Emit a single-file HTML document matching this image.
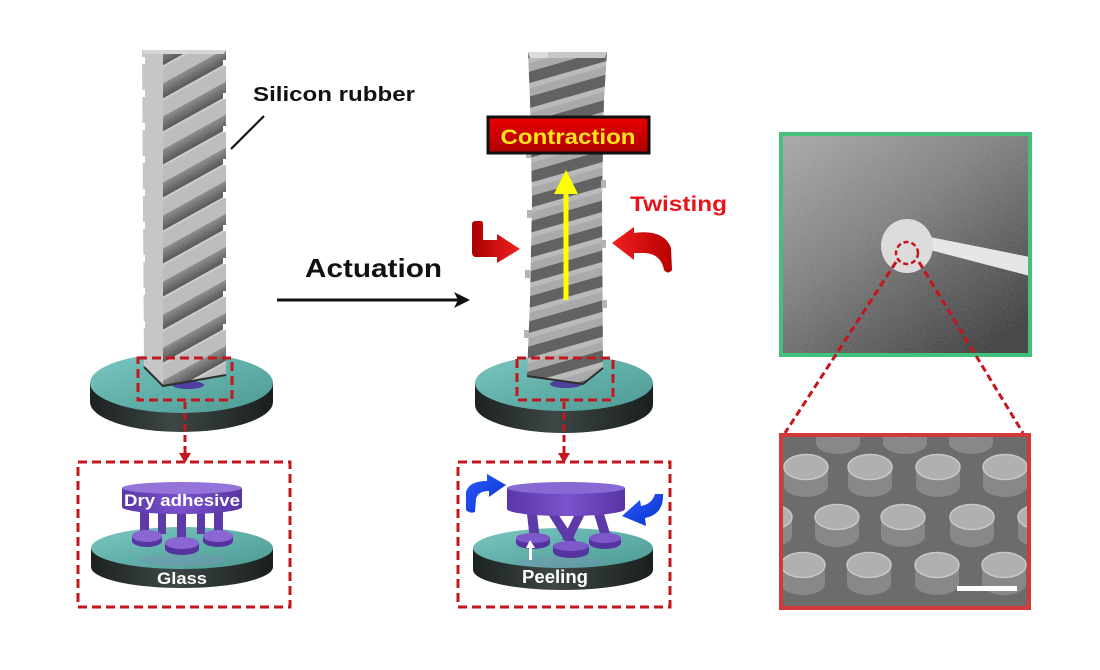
<!DOCTYPE html>
<html><head><meta charset="utf-8"><style>
html,body{margin:0;padding:0;background:#fff;}
svg{display:block;}
</style></head><body>
<svg width="1100" height="670" viewBox="0 0 1100 670" xmlns="http://www.w3.org/2000/svg" font-family="'Liberation Sans', Arial, sans-serif" font-weight="bold">
<defs>
  <linearGradient id="diskTop" x1="0" y1="0" x2="1" y2="1">
    <stop offset="0" stop-color="#7cc6c0"/><stop offset="0.5" stop-color="#62b0aa"/><stop offset="1" stop-color="#4e9a94"/>
  </linearGradient>
  <linearGradient id="diskSide" x1="0" y1="0" x2="1" y2="0">
    <stop offset="0" stop-color="#1c2221"/><stop offset="0.45" stop-color="#3d4745"/><stop offset="1" stop-color="#1a1f1e"/>
  </linearGradient>
  <linearGradient id="grooveG" x1="0" y1="0" x2="0" y2="1">
    <stop offset="0" stop-color="#8e8e8e"/><stop offset="1" stop-color="#585858"/>
  </linearGradient>
  <pattern id="lgroove" width="200" height="28.9" patternUnits="userSpaceOnUse" patternTransform="rotate(-29 160 98)">
    <rect x="0" y="0" width="200" height="28.9" fill="#bdbdbd"/>
    <rect x="0" y="0" width="200" height="13" fill="url(#grooveG)"/>
    <rect x="0" y="13" width="200" height="2" fill="#cdcdcd"/>
  </pattern>
  <pattern id="mgroove" width="200" height="24" patternUnits="userSpaceOnUse" patternTransform="rotate(-16 528 70)">
    <rect x="0" y="0" width="200" height="24" fill="#aaaaaa"/>
    <rect x="0" y="0" width="200" height="11" fill="#626262"/>
    <rect x="0" y="11" width="200" height="5" fill="#bababa"/>
  </pattern>
  <linearGradient id="purpSide" x1="0" y1="0" x2="1" y2="0">
    <stop offset="0" stop-color="#5a36a8"/><stop offset="0.5" stop-color="#7a52cc"/><stop offset="1" stop-color="#5834a4"/>
  </linearGradient>
  <linearGradient id="redL" x1="0" y1="0" x2="1" y2="0">
    <stop offset="0" stop-color="#a80000"/><stop offset="1" stop-color="#f02020"/>
  </linearGradient>
  <linearGradient id="redR" x1="0" y1="0" x2="1" y2="0">
    <stop offset="0" stop-color="#f02020"/><stop offset="1" stop-color="#b80000"/>
  </linearGradient>
  <linearGradient id="blue" x1="0" y1="0" x2="1" y2="1">
    <stop offset="0" stop-color="#2a5cff"/><stop offset="1" stop-color="#0a30c8"/>
  </linearGradient>
  <linearGradient id="boxRed" x1="0" y1="0" x2="0" y2="1">
    <stop offset="0" stop-color="#e80000"/><stop offset="1" stop-color="#b00000"/>
  </linearGradient>
  <linearGradient id="photoBg" x1="0" y1="0" x2="0.8" y2="1">
    <stop offset="0" stop-color="#a9a9a9"/><stop offset="0.45" stop-color="#7e7e7e"/><stop offset="1" stop-color="#3a3a3a"/>
  </linearGradient>
  <filter id="noise" x="0" y="0" width="100%" height="100%">
    <feTurbulence type="fractalNoise" baseFrequency="0.7" numOctaves="3" seed="3"/>
    <feColorMatrix type="saturate" values="0"/>
  </filter>
  <clipPath id="photo"><rect x="783" y="136" width="245" height="217"/></clipPath>
  <clipPath id="sem"><rect x="783" y="437" width="244" height="169"/></clipPath>
  <g id="pil">
    <path d="M-22,0 L-22,19 A22,11 0 0 0 22,19 L22,0 Z" fill="#888888"/>
    <ellipse cx="0" cy="0" rx="22" ry="12.5" fill="#b0b0b0" stroke="#c8c8c8" stroke-width="1.5"/>
  </g>
</defs>

<!-- ===== LEFT COLUMN ===== -->
<path d="M90,383 L90,402 A91.5,30 0 0 0 273,402 L273,383 Z" fill="url(#diskSide)"/>
<ellipse cx="181.5" cy="383" rx="91.5" ry="30" fill="url(#diskTop)"/>
<ellipse cx="188" cy="385" rx="16" ry="4" fill="#4f3f9e"/>
<polygon points="142,50 163,50 163,386 144,367" fill="#c6c6c6"/>
<polygon points="163,50 226,50 226,375 163,386" fill="url(#lgroove)"/>
<polygon points="142,50 226,50 224,54 144,54" fill="#d6d6d6"/>
<g fill="#fff">
  <rect x="141" y="57" width="4" height="7"/><rect x="141" y="90" width="4" height="7"/>
  <rect x="141" y="123" width="4" height="7"/><rect x="141" y="156" width="4" height="7"/>
  <rect x="141" y="189" width="4" height="7"/><rect x="141" y="222" width="4" height="7"/>
  <rect x="141" y="255" width="4" height="7"/><rect x="141" y="288" width="4" height="7"/>
  <rect x="141" y="321" width="4" height="7"/>
  <rect x="223" y="60" width="4" height="6"/><rect x="223" y="93" width="4" height="6"/>
  <rect x="223" y="126" width="4" height="6"/><rect x="223" y="159" width="4" height="6"/>
  <rect x="223" y="192" width="4" height="6"/><rect x="223" y="225" width="4" height="6"/>
  <rect x="223" y="258" width="4" height="6"/><rect x="223" y="291" width="4" height="6"/>
  <rect x="223" y="324" width="4" height="6"/>
</g>
<polyline points="144,367 163,386 226,375" fill="none" stroke="#2e2e2e" stroke-width="2"/>

<text x="253" y="101" font-size="20" textLength="162" lengthAdjust="spacingAndGlyphs" fill="#111">Silicon rubber</text>
<line x1="264" y1="116" x2="231" y2="149" stroke="#111" stroke-width="2.2"/>

<rect x="138" y="358" width="94" height="42" fill="none" stroke="#c4161c" stroke-width="3" stroke-dasharray="9,5"/>
<line x1="185" y1="402" x2="185" y2="455" stroke="#c4161c" stroke-width="3" stroke-dasharray="7,4"/>
<polygon points="179,453 191,453 185,463" fill="#c4161c"/>

<rect x="78" y="462" width="212" height="145" fill="none" stroke="#c4161c" stroke-width="3" stroke-dasharray="9,5"/>
<path d="M91,548 L91,567 A91,21 0 0 0 273,567 L273,548 Z" fill="url(#diskSide)"/>
<ellipse cx="182" cy="548" rx="91" ry="21" fill="url(#diskTop)"/>
<ellipse cx="182" cy="560" rx="45" ry="6" fill="#7f8fb8" opacity="0.35"/>
<g fill="#5d3aa8">
  <rect x="140" y="510" width="9" height="26"/><rect x="158" y="510" width="8" height="24"/>
  <rect x="177" y="510" width="9" height="32"/><rect x="197" y="510" width="8" height="24"/>
  <rect x="214" y="510" width="9" height="26"/>
</g>
<g fill="#ffffff" opacity="0.9">
  <rect x="151" y="518" width="4" height="7"/><rect x="168" y="518" width="4" height="7"/>
  <rect x="189" y="518" width="4" height="7"/><rect x="207" y="518" width="4" height="7"/>
</g>
<path d="M132,536 L132,541 A15,6 0 0 0 162,541 L162,536 Z" fill="#5634a0"/>
<ellipse cx="147" cy="536" rx="15" ry="6" fill="#8a66d2"/>
<path d="M203,536 L203,541 A15,6 0 0 0 233,541 L233,536 Z" fill="#5634a0"/>
<ellipse cx="218" cy="536" rx="15" ry="6" fill="#8a66d2"/>
<path d="M165,543 L165,549 A17,6 0 0 0 199,549 L199,543 Z" fill="#5634a0"/>
<ellipse cx="182" cy="543" rx="17" ry="6" fill="#8a66d2"/>
<path d="M122,488 L122,507 A60,7 0 0 0 242,507 L242,488 Z" fill="url(#purpSide)"/>
<ellipse cx="182" cy="488" rx="60" ry="6" fill="#9574da"/>
<text x="182" y="506" font-size="17" text-anchor="middle" textLength="116" lengthAdjust="spacingAndGlyphs" fill="#fff">Dry adhesive</text>
<text x="182" y="584" font-size="17" text-anchor="middle" textLength="50" lengthAdjust="spacingAndGlyphs" fill="#fff">Glass</text>

<!-- ===== ACTUATION ===== -->
<text x="305" y="277" font-size="26" textLength="137" lengthAdjust="spacingAndGlyphs" fill="#111">Actuation</text>
<line x1="277" y1="300" x2="462" y2="300" stroke="#111" stroke-width="3"/>
<polygon points="454,292 470,300 454,308 458,300" fill="#111"/>

<!-- ===== MIDDLE COLUMN ===== -->
<path d="M475,383 L475,405 A89,28 0 0 0 653,405 L653,383 Z" fill="url(#diskSide)"/>
<ellipse cx="564" cy="383" rx="89" ry="28" fill="url(#diskTop)"/>
<ellipse cx="566" cy="384" rx="16" ry="4" fill="#4f3f9e"/>
<polygon points="528,52 607,52 604,100 602,200 603,368 583,384 527,376 530,300 532,200 530,100" fill="url(#mgroove)"/>
<polygon points="528,52 607,52 605,58 530,58" fill="#c8c8c8"/>
<polygon points="528,52 548,52 548,58 530,58" fill="#dcdcdc"/>
<g fill="#b4b4b4">
  <rect x="526" y="150" width="5" height="8"/><rect x="527" y="210" width="5" height="8"/>
  <rect x="525" y="270" width="5" height="8"/><rect x="524" y="330" width="5" height="8"/>
  <rect x="602" y="120" width="5" height="8"/><rect x="601" y="180" width="5" height="8"/>
  <rect x="601" y="240" width="5" height="8"/><rect x="602" y="300" width="5" height="8"/>
</g>
<polyline points="527,376 583,384 603,368" fill="none" stroke="#2e2e2e" stroke-width="2"/>

<line x1="566" y1="300" x2="566" y2="190" stroke="#ffff00" stroke-width="5"/>
<polygon points="566,170 554,194 578,194" fill="#ffff00"/>

<rect x="488" y="117" width="161" height="36" fill="url(#boxRed)" stroke="#111" stroke-width="3"/>
<text x="568" y="144" font-size="21" text-anchor="middle" textLength="135" lengthAdjust="spacingAndGlyphs" fill="#ffe81a">Contraction</text>

<text x="630" y="211" font-size="21" textLength="97" lengthAdjust="spacingAndGlyphs" fill="#e8141c">Twisting</text>
<path d="M472,224 Q472,221 476,221 L481,221 Q483,221 483,224 L483,240 L497,240 L497,234 L520,249 L497,263 L497,257 L476,257 Q472,257 472,252 Z" fill="url(#redL)"/>
<path d="M612,243 L634,227 L634,233 Q664,229 671,248 L672,270 Q668,275 664,270 Q661,254 645,253 L634,253 L634,260 Z" fill="url(#redR)"/>

<rect x="517" y="358" width="96" height="42" fill="none" stroke="#c4161c" stroke-width="3" stroke-dasharray="9,5"/>
<line x1="564" y1="402" x2="564" y2="455" stroke="#c4161c" stroke-width="3" stroke-dasharray="7,4"/>
<polygon points="558,453 570,453 564,463" fill="#c4161c"/>

<rect x="458" y="462" width="212" height="145" fill="none" stroke="#c4161c" stroke-width="3" stroke-dasharray="9,5"/>
<path d="M473,548 L473,570 A90,20 0 0 0 653,570 L653,548 Z" fill="url(#diskSide)"/>
<ellipse cx="563" cy="548" rx="90" ry="20" fill="url(#diskTop)"/>
<ellipse cx="560" cy="562" rx="45" ry="6" fill="#7f8fb8" opacity="0.35"/>
<g fill="#5d3aa8">
  <polygon points="527,514 537,514 540,540 530,540"/>
  <polygon points="548,514 558,514 578,544 568,546"/>
  <polygon points="575,514 585,514 572,540 562,540"/>
  <polygon points="594,514 604,514 612,540 602,540"/>
</g>
<path d="M516,538 L516,543 A17,6 0 0 0 550,543 L550,538 Z" fill="#5634a0"/>
<ellipse cx="533" cy="538" rx="17" ry="5" fill="#7c58c8"/>
<path d="M553,546 L553,552 A18,6 0 0 0 589,552 L589,546 Z" fill="#5634a0"/>
<ellipse cx="571" cy="546" rx="18" ry="5" fill="#7c58c8"/>
<path d="M589,538 L589,543 A16,6 0 0 0 621,543 L621,538 Z" fill="#5634a0"/>
<ellipse cx="605" cy="538" rx="16" ry="5" fill="#7c58c8"/>
<path d="M507,488 L507,509 A59,7 0 0 0 625,509 L625,488 Z" fill="url(#purpSide)"/>
<ellipse cx="566" cy="488" rx="59" ry="6" fill="#8868d2"/>
<polygon points="530,540 526,548 529,548 529,560 532,560 532,548 535,548" fill="#fff"/>
<text x="555" y="583" font-size="18" text-anchor="middle" textLength="66" lengthAdjust="spacingAndGlyphs" fill="#fff">Peeling</text>
<path d="M466,492 Q469,481 487,481 L487,474 L506,485 L489,497 L489,491 Q478,491 476,499 L475,512 Q470,514 466,510 Z" fill="url(#blue)"/>
<path d="M622,516 L640,500 L641,506 Q652,504 655,494 L663,494 Q664,514 645,518 L646,526 Z" fill="url(#blue)"/>

<!-- ===== RIGHT COLUMN ===== -->
<g clip-path="url(#photo)">
  <rect x="783" y="136" width="245" height="217" fill="url(#photoBg)"/>
  <rect x="783" y="136" width="245" height="217" filter="url(#noise)" opacity="0.25"/>
  <polygon points="930,237 1030,257 1030,276 930,250" fill="#e6e6e6"/>
  <ellipse cx="907" cy="246" rx="26" ry="27" fill="#dcdcdc"/>
</g>
<rect x="781" y="134" width="249" height="221" fill="none" stroke="#43c07a" stroke-width="4"/>
<circle cx="907" cy="253" r="11" fill="none" stroke="#c4161c" stroke-width="2.5" stroke-dasharray="5,3"/>
<line x1="896" y1="262" x2="785" y2="433" stroke="#c4161c" stroke-width="3" stroke-dasharray="7,4"/>
<line x1="919" y1="262" x2="1023" y2="433" stroke="#c4161c" stroke-width="3" stroke-dasharray="7,4"/>

<g clip-path="url(#sem)">
  <rect x="783" y="437" width="244" height="169" fill="#6c6c6c"/>
  <use href="#pil" x="838" y="424"/><use href="#pil" x="905" y="424"/><use href="#pil" x="971" y="424"/>
  <use href="#pil" x="806" y="467"/><use href="#pil" x="870" y="467"/><use href="#pil" x="938" y="467"/><use href="#pil" x="1005" y="467"/>
  <use href="#pil" x="770" y="517"/><use href="#pil" x="837" y="517"/><use href="#pil" x="903" y="517"/><use href="#pil" x="972" y="517"/><use href="#pil" x="1040" y="517"/>
  <use href="#pil" x="803" y="565"/><use href="#pil" x="869" y="565"/><use href="#pil" x="937" y="565"/><use href="#pil" x="1004" y="565"/>
  <rect x="957" y="586" width="60" height="5" fill="#fff"/>
</g>
<rect x="781" y="435" width="248" height="173" fill="none" stroke="#d23a3a" stroke-width="4"/>
</svg>
</body></html>
